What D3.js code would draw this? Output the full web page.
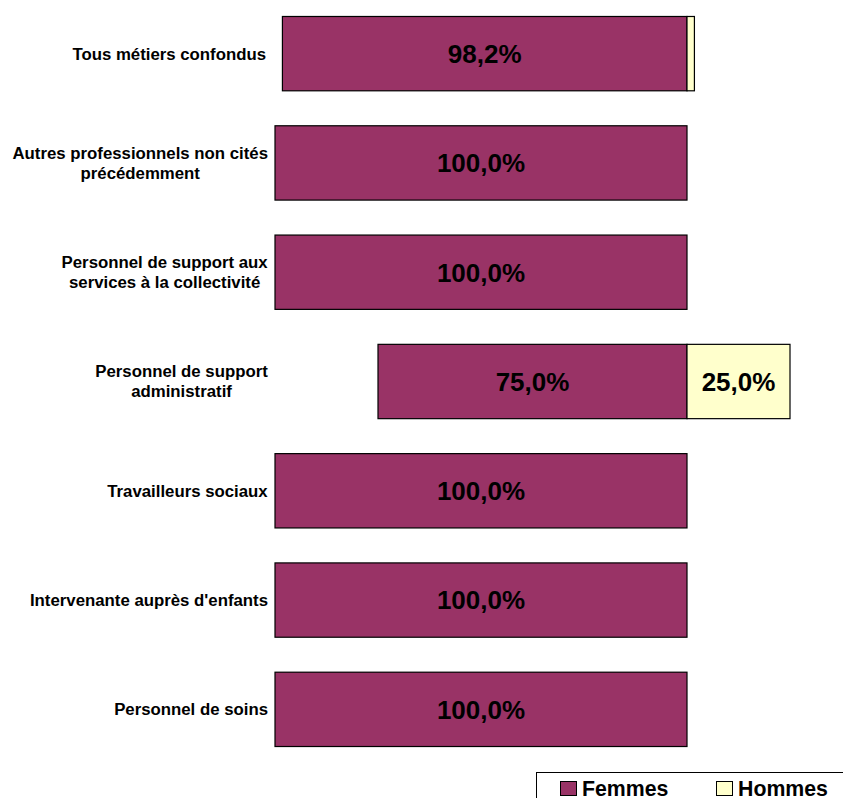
<!DOCTYPE html>
<html><head><meta charset="utf-8">
<script src="https://cdn.jsdelivr.net/npm/d3@7/dist/d3.min.js"></script>
<style>body{margin:0;background:#fff}svg{display:block}text{font-family:"Liberation Sans",Arial,sans-serif;font-weight:bold}</style>
</head><body>
<script>
const categories = [
  ["Tous métiers confondus"],
  ["Autres professionnels non cités", "précédemment"],
  ["Personnel de support aux", "services à la collectivité"],
  ["Personnel de support", "administratif"],
  ["Travailleurs sociaux"],
  ["Intervenante auprès d'enfants"],
  ["Personnel de soins"]
];
const femmes = [98.2, 100, 100, 75, 100, 100, 100];
const hommes = [1.8, 0, 0, 25, 0, 0, 0];
const seriesNames = ["Femmes", "Hommes"];
const colors = ["#993366", "#FFFFCC"];

const W = 843, H = 798;
const svg = d3.select("body").append("svg").attr("width", W).attr("height", H);

const center = 687;
const xF = d3.scaleLinear().domain([0, 100]).range([center, 275]);
const xH = d3.scaleLinear().domain([0, 100]).range([center, center + 412]);
const y = d3.scaleBand().domain(d3.range(categories.length)).range([-1, 764]).paddingInner(0.32).paddingOuter(0.16);

const fmt = v => v.toFixed(1).replace(".", ",") + "%";

const g = svg.append("g");
categories.forEach((lines, i) => {
  const y0 = y(i), bh = y.bandwidth(), cy = y0 + bh / 2;
  g.append("rect").attr("x", xF(femmes[i])).attr("y", y0).attr("width", xF(0) - xF(femmes[i])).attr("height", bh)
    .attr("fill", colors[0]).attr("stroke", "#000").attr("stroke-width", 1.2);
  if (hommes[i] > 0) {
    g.append("rect").attr("x", xH(0)).attr("y", y0).attr("width", xH(hommes[i]) - xH(0)).attr("height", bh)
      .attr("fill", colors[1]).attr("stroke", "#000").attr("stroke-width", 1.2);
  }
  g.append("text").attr("x", (xF(femmes[i]) + xF(0)) / 2).attr("y", cy).attr("dy", "0.36em")
    .attr("text-anchor", "middle").attr("font-size", 26).text(fmt(femmes[i]));
  if (hommes[i] >= 5) {
    g.append("text").attr("x", (xH(0) + xH(hommes[i])) / 2).attr("y", cy).attr("dy", "0.36em")
      .attr("text-anchor", "middle").attr("font-size", 26).text(fmt(hommes[i]));
  }
  const t = g.append("text").attr("text-anchor", "middle").attr("font-size", 16.8);
  const lh = 20;
  lines.forEach((l, k) => {
    t.append("tspan").attr("x", 0).attr("y", cy + (k - (lines.length - 1) / 2) * lh).attr("dy", "0.35em").text(l);
  });
  const bb = t.node().getBBox();
  const rightEdge = i === 0 ? 266 : 268;
  t.attr("transform", `translate(${rightEdge - bb.width / 2},0)`);
});

// legend
const lg = svg.append("g");
lg.append("rect").attr("x", 536.5).attr("y", 772.5).attr("width", 320).attr("height", 40)
  .attr("fill", "#fff").attr("stroke", "#000").attr("stroke-width", 1);
const legX = [560, 716];
seriesNames.forEach((n, k) => {
  lg.append("rect").attr("x", legX[k] + 0.5).attr("y", 781.5).attr("width", 16).attr("height", 14)
    .attr("fill", colors[k]).attr("stroke", "#000").attr("stroke-width", 1);
  lg.append("text").attr("x", legX[k] + 22).attr("y", 796).attr("font-size", 21.3).text(n);
});
</script>
</body></html>
